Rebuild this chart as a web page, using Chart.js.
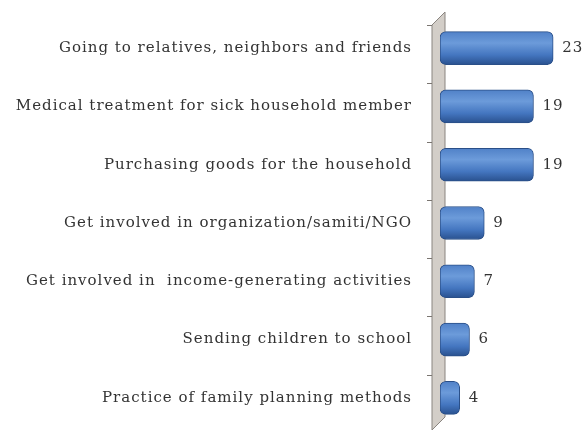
<!DOCTYPE html>
<html>
<head>
<meta charset="utf-8">
<script src="https://cdn.jsdelivr.net/npm/chart.js@4/dist/chart.umd.min.js"></script>
<style>
  html, body { margin: 0; padding: 0; background: #fff; }
  #wrap { width: 583px; height: 430px; }
</style>
</head>
<body>
<div id="wrap"><canvas id="c" width="583" height="430"></canvas></div>
<script>
const activities = [
  'Going to relatives, neighbors and friends',
  'Medical treatment for sick household member',
  'Purchasing goods for the household',
  'Get involved in organization/samiti/NGO',
  'Get involved in  income-generating activities',
  'Sending children to school',
  'Practice of family planning methods'
];
const counts = [23, 19, 19, 9, 7, 6, 4];

const FONT = "'DejaVu Serif', 'Liberation Serif', serif";

// cylinder-ish shading for each bar
const barFill = (context) => {
  const chart = context.chart;
  if (!chart.chartArea) return '#4a7cc4';
  const y = chart.scales.y.getPixelForValue(context.dataIndex);
  const g = chart.ctx.createLinearGradient(0, y - 17, 0, y + 17);
  g.addColorStop(0, '#4f80c7');
  g.addColorStop(0.35, '#6c9bda');
  g.addColorStop(0.7, '#4476c0');
  g.addColorStop(1, '#284f8c');
  return g;
};

// grey side wall + tick marks behind the bars
const wallPlugin = {
  id: 'wall',
  beforeDraw(chart) {
    chart.ctx.letterSpacing = '1px';
  },
  beforeDatasetsDraw(chart) {
    const { ctx, chartArea, scales } = chart;
    const x0 = chartArea.left - 8, x1 = chartArea.left + 5;
    ctx.save();
    ctx.beginPath();
    ctx.moveTo(x0, chartArea.top + 6);
    ctx.lineTo(x1, chartArea.top - 7);
    ctx.lineTo(x1, chartArea.bottom - 10);
    ctx.lineTo(x0, chartArea.bottom + 3);
    ctx.closePath();
    ctx.fillStyle = '#d3cec8';
    ctx.fill();
    ctx.strokeStyle = '#8a8580';
    ctx.lineWidth = 1;
    ctx.stroke();
    ctx.strokeStyle = '#7a7570';
    const n = activities.length;
    for (let i = 0; i < n; i++) {
      const yb = (scales.y.getPixelForValue(i) + scales.y.getPixelForValue(i - 1)) / 2 + 6;
      ctx.beginPath();
      ctx.moveTo(x0 - 5, Math.round(yb) + 0.5);
      ctx.lineTo(x0, Math.round(yb) + 0.5);
      ctx.stroke();
    }
    ctx.restore();
  }
};

const valuePlugin = {
  id: 'values',
  afterDatasetsDraw(chart) {
    const { ctx } = chart;
    const meta = chart.getDatasetMeta(0);
    ctx.save();
    ctx.font = '15px ' + FONT;
    ctx.fillStyle = '#333';
    ctx.textBaseline = 'middle';
    meta.data.forEach((bar, i) => {
      ctx.fillText(String(counts[i]), bar.x + 9, bar.y);
    });
    ctx.restore();
  }
};

new Chart(document.getElementById('c'), {
  type: 'bar',
  data: {
    labels: activities,
    datasets: [{
      data: counts,
      backgroundColor: barFill,
      borderColor: '#2a4f88',
      borderWidth: 1,
      borderRadius: 6,
      borderSkipped: false,
      barThickness: 33
    }]
  },
  options: {
    indexAxis: 'y',
    responsive: false,
    animation: false,
    layout: { padding: { top: 19, bottom: 3, left: 0, right: 20 } },
    plugins: { legend: { display: false }, tooltip: { enabled: false } },
    scales: {
      x: { min: 0, max: 25, display: false },
      y: {
        grid: { display: false, drawTicks: false },
        border: { display: false },
        afterFit(axis) {
          axis.width = 440;
          axis.paddingTop = 0;
          axis.paddingBottom = 0;
        },
        ticks: {
          padding: 28,
          color: '#333',
          font: { family: FONT, size: 15 }
        }
      }
    }
  },
  plugins: [wallPlugin, valuePlugin]
});
</script>
</body>
</html>
